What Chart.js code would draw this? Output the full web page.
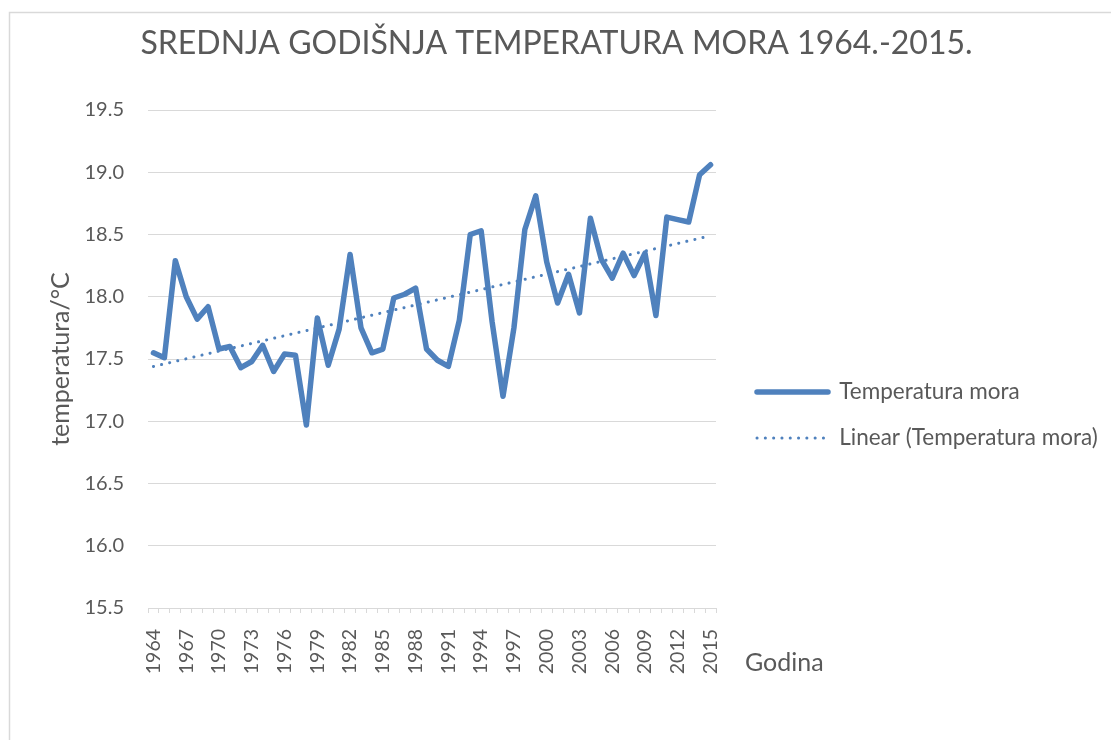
<!DOCTYPE html>
<html>
<head>
<meta charset="utf-8">
<script src="https://cdn.jsdelivr.net/npm/chart.js@4/dist/chart.umd.min.js"></script>
<style>
html,body{margin:0;padding:0;background:#ffffff;}
#wrap{width:1111px;height:740px;position:relative;}
</style>
</head>
<body>
<div id="wrap"><canvas id="c" width="1111" height="740"></canvas></div>
<script>
const years = ['1964','1965','1966','1967','1968','1969','1970','1971','1972','1973',
  '1974','1975','1976','1977','1978','1979','1980','1981','1982','1983',
  '1984','1985','1986','1987','1988','1989','1990','1991','1992','1993',
  '1994','1995','1996','1997','1998','1999','2000','2001','2002','2003',
  '2004','2005','2006','2007','2008','2009','2010','2011','2012','2013',
  '2014','2015'];
const temperatures = [17.55, 17.51, 18.29, 18.00, 17.82, 17.92, 17.58, 17.60, 17.43, 17.48,
  17.61, 17.40, 17.54, 17.53, 16.97, 17.83, 17.45, 17.74, 18.34, 17.75,
  17.55, 17.58, 17.99, 18.02, 18.07, 17.58, 17.49, 17.44, 17.81, 18.50,
  18.53, 17.80, 17.20, 17.75, 18.54, 18.81, 18.28, 17.95, 18.18, 17.87,
  18.63, 18.30, 18.15, 18.35, 18.17, 18.35, 17.85, 18.64, 18.62, 18.60,
  18.98, 19.06];
const trendEnds = [17.44, 18.49];
const xTickLabels = ['1964','1967','1970','1973','1976','1979','1982','1985','1988','1991',
  '1994','1997','2000','2003','2006','2009','2012','2015'];
const yTicks = [15.5, 16.0, 16.5, 17.0, 17.5, 18.0, 18.5, 19.0, 19.5];

const chartTitle = 'SREDNJA GODIŠNJA TEMPERATURA MORA 1964.-2015.';
const seriesName = 'Temperatura mora';
const trendName = 'Linear (Temperatura mora)';
const yTitle = 'temperatura/°C';
const xTitle = 'Godina';

const textColor = '#595959';
const gridColor = '#D9D9D9';
const lineColor = '#4F81BD';
const FONT = 'Lato';

const trendData = years.map((y, i) => i === 0 ? trendEnds[0] : (i === years.length - 1 ? trendEnds[1] : null));

const framePlugin = {
  id: 'frame',
  beforeLayout(chart) {
    const lg = chart.legend;
    if (lg && !lg._fixedWidth) {
      const origFit = lg.fit;
      lg.fit = function () {
        origFit.call(this);
        if (!this.isHorizontal()) this.width = 367.5;
      };
      lg._fixedWidth = true;
    }
  },
  beforeDraw(chart) {
    const ctx = chart.ctx;
    ctx.save();
    ctx.strokeStyle = gridColor;
    ctx.lineWidth = 1.5;
    ctx.beginPath();
    ctx.moveTo(9.5, 760);
    ctx.lineTo(9.5, 12.5);
    ctx.lineTo(1130, 12.5);
    ctx.stroke();
    ctx.restore();
  },
  afterDraw(chart) {
    const {ctx, chartArea} = chart;
    ctx.save();
    ctx.fillStyle = textColor;
    ctx.font = '25px ' + FONT;
    ctx.textBaseline = 'middle';
    ctx.textAlign = 'left';
    ctx.fillText(xTitle, chartArea.right + 29, chartArea.bottom + 55);
    ctx.restore();
  }
};

new Chart(document.getElementById('c'), {
  type: 'line',
  data: {
    labels: years,
    datasets: [
      {
        label: seriesName,
        data: temperatures,
        borderColor: lineColor,
        backgroundColor: lineColor,
        borderWidth: 5.5,
        borderCapStyle: 'round',
        borderJoinStyle: 'round',
        pointRadius: 0,
        pointStyle: 'line',
        tension: 0,
        fill: false
      },
      {
        label: trendName,
        data: trendData,
        spanGaps: true,
        borderColor: lineColor,
        backgroundColor: lineColor,
        borderWidth: 3,
        borderDash: [0.1, 8.2],
        borderCapStyle: 'round',
        pointRadius: 0,
        pointStyle: 'line',
        tension: 0,
        fill: false
      }
    ]
  },
  options: {
    responsive: false,
    animation: false,
    layout: { padding: { left: 12, right: 10, top: 0, bottom: 10 } },
    plugins: {
      title: {
        display: true,
        text: chartTitle,
        color: textColor,
        font: { family: FONT, size: 32, weight: 'normal' },
        padding: { top: 24, bottom: 47.6 }
      },
      legend: {
        position: 'right',
        title: {
          display: true,
          text: '',
          font: { family: FONT, size: 10 },
          padding: { top: 88, bottom: 0 }
        },
        labels: {
          usePointStyle: true,
          pointStyleWidth: 71,
          padding: 23.5,
          color: textColor,
          font: { family: FONT, size: 22.5 },
          generateLabels(chart) {
            const items = Chart.defaults.plugins.legend.labels.generateLabels(chart);
            items.forEach(it => {
              const ds = chart.data.datasets[it.datasetIndex];
              it.lineDash = ds.borderDash || [];
              it.lineCap = ds.borderCapStyle || 'butt';
              it.lineWidth = ds.borderWidth;
              it.strokeStyle = ds.borderColor;
              it.fillStyle = ds.borderColor;
              it.pointStyle = 'line';
            });
            return items;
          }
        }
      },
      tooltip: { enabled: false }
    },
    scales: {
      x: {
        offset: true,
        grid: { offset: true, drawOnChartArea: false, drawTicks: true, tickLength: 5, color: gridColor },
        border: { display: true, color: gridColor },
        ticks: {
          autoSkip: false,
          minRotation: 90,
          maxRotation: 90,
          padding: 16,
          color: textColor,
          font: { family: FONT, size: 19.5 },
          callback(v) {
            const l = this.getLabelForValue(v);
            return xTickLabels.includes(l) ? l : '';
          }
        },
        afterFit(s) { s.height = 122; }
      },
      y: {
        min: yTicks[0],
        max: yTicks[yTicks.length - 1],
        ticks: {
          stepSize: yTicks[1] - yTicks[0],
          padding: 24,
          color: textColor,
          font: { family: FONT, size: 20 },
          callback: v => Number(v).toFixed(1)
        },
        grid: { color: gridColor, drawTicks: false },
        border: { display: false },
        title: {
          display: true,
          text: yTitle,
          color: textColor,
          font: { family: FONT, size: 25 },
          padding: { top: 34, bottom: 0 }
        },
        afterFit(s) { s.width = 136; }
      },
      yR: {
        type: 'linear',
        position: 'right',
        display: true,
        grid: { display: false },
        ticks: { display: false },
        border: { display: false },
        afterFit(s) { s.width = 17.5; }
      }
    }
  },
  plugins: [framePlugin]
});
</script>
</body>
</html>
